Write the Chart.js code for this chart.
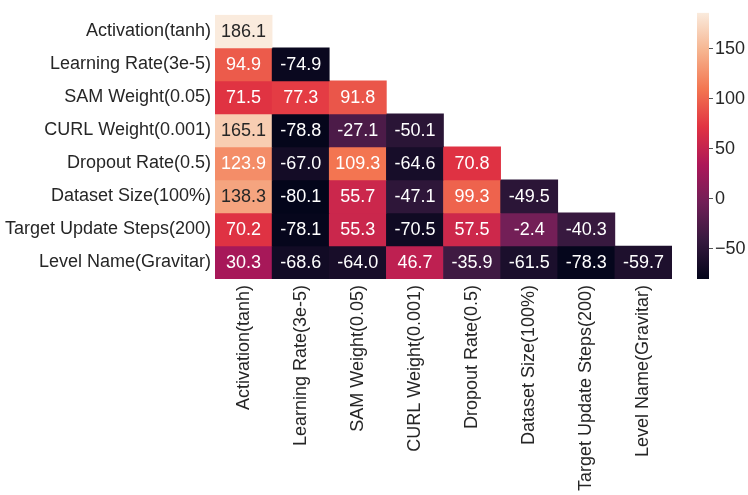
<!DOCTYPE html>
<html>
<head>
<meta charset="utf-8">
<script src="https://cdn.jsdelivr.net/npm/chart.js@4"></script>
<style>
  body { margin: 0; background: #fff; }
  #wrap { position: relative; width: 748px; height: 495px; }
  #heat { position: absolute; left: 0; top: 0; }
  #cbar { position: absolute; left: 690px; top: 0; }
</style>
</head>
<body>
<div id="wrap">
  <canvas id="heat" width="748" height="495"></canvas>
  <canvas id="cbar" width="58" height="495"></canvas>
</div>
<script>
// параметры (строки и столбцы одинаковые)
var rowLabels = ['Activation(tanh)', 'Learning Rate(3e-5)', 'SAM Weight(0.05)', 'CURL Weight(0.001)',
    'Dropout Rate(0.5)', 'Dataset Size(100%)', 'Target Update Steps(200)', 'Level Name(Gravitar)'];
var colLabels = rowLabels.slice();

// нижний треугольник, null = пустая клетка
var row0 = [186.1, null, null, null, null, null, null, null];
var row1 = [94.9, -74.9, null, null, null, null, null, null];
var row2 = [71.5, 77.3, 91.8, null, null, null, null, null];
var row3 = [165.1, -78.8, -27.1, -50.1, null, null, null, null];
var row4 = [123.9, -67.0, 109.3, -64.6, 70.8, null, null, null];
var row5 = [138.3, -80.1, 55.7, -47.1, 99.3, -49.5, null, null];
var row6 = [70.2, -78.1, 55.3, -70.5, 57.5, -2.4, -40.3, null];
var row7 = [30.3, -68.6, -64.0, 46.7, -35.9, -61.5, -78.3, -59.7];
var matrix = [row0, row1, row2, row3, row4, row5, row6, row7];

var vmin = -80.1, vmax = 186.1;
var cbarTicks = [-50, 0, 50, 100, 150];

// палитра rocket (seaborn), опорные точки
var rocket = [
    [0.0, [3, 5, 26]],
    [1/7, [53, 25, 62]],
    [2/7, [112, 31, 87]],
    [3/7, [173, 23, 89]],
    [4/7, [225, 51, 66]],
    [5/7, [243, 118, 81]],
    [6/7, [246, 180, 143]],
    [1.0, [250, 235, 221]]
];

function cmap(v) {
    var t = (v - vmin) / (vmax - vmin);
    t = Math.max(0, Math.min(1, t));
    for (var k = 1; k < rocket.length; k++) {
        if (t <= rocket[k][0]) {
            var a = rocket[k - 1], b = rocket[k];
            var f = (t - a[0]) / (b[0] - a[0]);
            return [0, 1, 2].map(function (c) { return Math.round(a[1][c] + (b[1][c] - a[1][c]) * f); });
        }
    }
    return rocket[rocket.length - 1][1];
}
function rgb(c) { return 'rgb(' + c[0] + ',' + c[1] + ',' + c[2] + ')'; }
function luminance(c) {
    var l = c.map(function (x) {
        x = x / 255;
        return x <= 0.03928 ? x / 12.92 : Math.pow((x + 0.055) / 1.055, 2.4);
    });
    return 0.2126 * l[0] + 0.7152 * l[1] + 0.0722 * l[2];
}

var FONT = '"Liberation Sans", Arial, sans-serif';
var TEXT = '#262626';
Chart.defaults.font.family = FONT;
Chart.defaults.font.size = 18;
Chart.defaults.color = TEXT;

var datasets = matrix.map(function (row, i) {
    return {
        label: rowLabels[i],
        data: row.map(function (v) { return v === null ? null : [i, i + 1]; }),
        values: row,
        backgroundColor: row.map(function (v) { return v === null ? 'rgba(0,0,0,0)' : rgb(cmap(v)); }),
        borderWidth: 0,
        barPercentage: 1.0,
        categoryPercentage: 1.0,
        grouped: false
    };
});

// подписи значений в клетках
var cellText = {
    id: 'cellText',
    afterDatasetsDraw: function (chart) {
        var ctx = chart.ctx;
        ctx.save();
        ctx.font = '18px ' + FONT;
        ctx.textAlign = 'center';
        ctx.textBaseline = 'middle';
        chart.data.datasets.forEach(function (ds, i) {
            var meta = chart.getDatasetMeta(i);
            meta.data.forEach(function (el, j) {
                var v = ds.values[j];
                if (v === null) return;
                ctx.fillStyle = luminance(cmap(v)) > 0.408 ? TEXT : '#ffffff';
                ctx.fillText(v.toFixed(1), el.x, (el.y + el.base) / 2 + 1);
            });
        });
        ctx.restore();
    }
};

new Chart(document.getElementById('heat').getContext('2d'), {
    type: 'bar',
    data: { labels: colLabels, datasets: datasets },
    options: {
        animation: false,
        responsive: false,
        devicePixelRatio: 1,
        layout: { padding: { top: 4, right: 76, left: 0, bottom: 0 } },
        plugins: { legend: { display: false }, tooltip: { enabled: false } },
        scales: {
            x: {
                type: 'category',
                grid: { display: false, drawTicks: false },
                border: { display: false },
                ticks: { minRotation: 90, maxRotation: 90, padding: 6, autoSkip: false, color: TEXT },
                afterFit: function (s) { s.height = 216; }
            },
            y: {
                type: 'linear',
                min: 0,
                max: 8,
                reverse: true,
                grid: { display: false, drawTicks: false },
                border: { display: false },
                afterBuildTicks: function (s) {
                    s.ticks = rowLabels.map(function (r, i) { return { value: i + 0.5 }; });
                },
                ticks: {
                    padding: 4,
                    color: TEXT,
                    callback: function (value, index) { return rowLabels[index]; }
                },
                afterFit: function (s) { s.width = 215; }
            }
        }
    },
    plugins: [cellText]
});

// цветовая шкала
new Chart(document.getElementById('cbar').getContext('2d'), {
    type: 'bar',
    data: {
        labels: [''],
        datasets: [{
            data: [[vmin, vmax]],
            borderWidth: 0,
            barPercentage: 1.0,
            categoryPercentage: 1.0,
            backgroundColor: function (c) {
                var chart = c.chart;
                var y = chart.scales.y;
                if (!y || !chart.chartArea) return '#000';
                var y0 = y.getPixelForValue(vmin), y1 = y.getPixelForValue(vmax);
                if (!isFinite(y0) || !isFinite(y1)) return '#000';
                var g = chart.ctx.createLinearGradient(0, y0, 0, y1);
                rocket.forEach(function (s) { g.addColorStop(s[0], rgb(s[1])); });
                return g;
            }
        }]
    },
    options: {
        animation: false,
        responsive: false,
        devicePixelRatio: 1,
        layout: { padding: { top: 4, left: 7, right: 0, bottom: 216 } },
        plugins: { legend: { display: false }, tooltip: { enabled: false } },
        scales: {
            x: { display: false },
            y: {
                position: 'right',
                min: vmin,
                max: vmax,
                border: { display: false },
                grid: { drawOnChartArea: false, drawTicks: true, tickLength: 4, color: '#555' },
                afterBuildTicks: function (s) {
                    s.ticks = cbarTicks.map(function (v) { return { value: v }; });
                },
                ticks: {
                    padding: 2,
                    color: TEXT,
                    callback: function (value) { return String(value).replace('-', '\u2212'); }
                },
                afterFit: function (s) { s.width = 39; }
            }
        }
    }
});
</script>
</body>
</html>
